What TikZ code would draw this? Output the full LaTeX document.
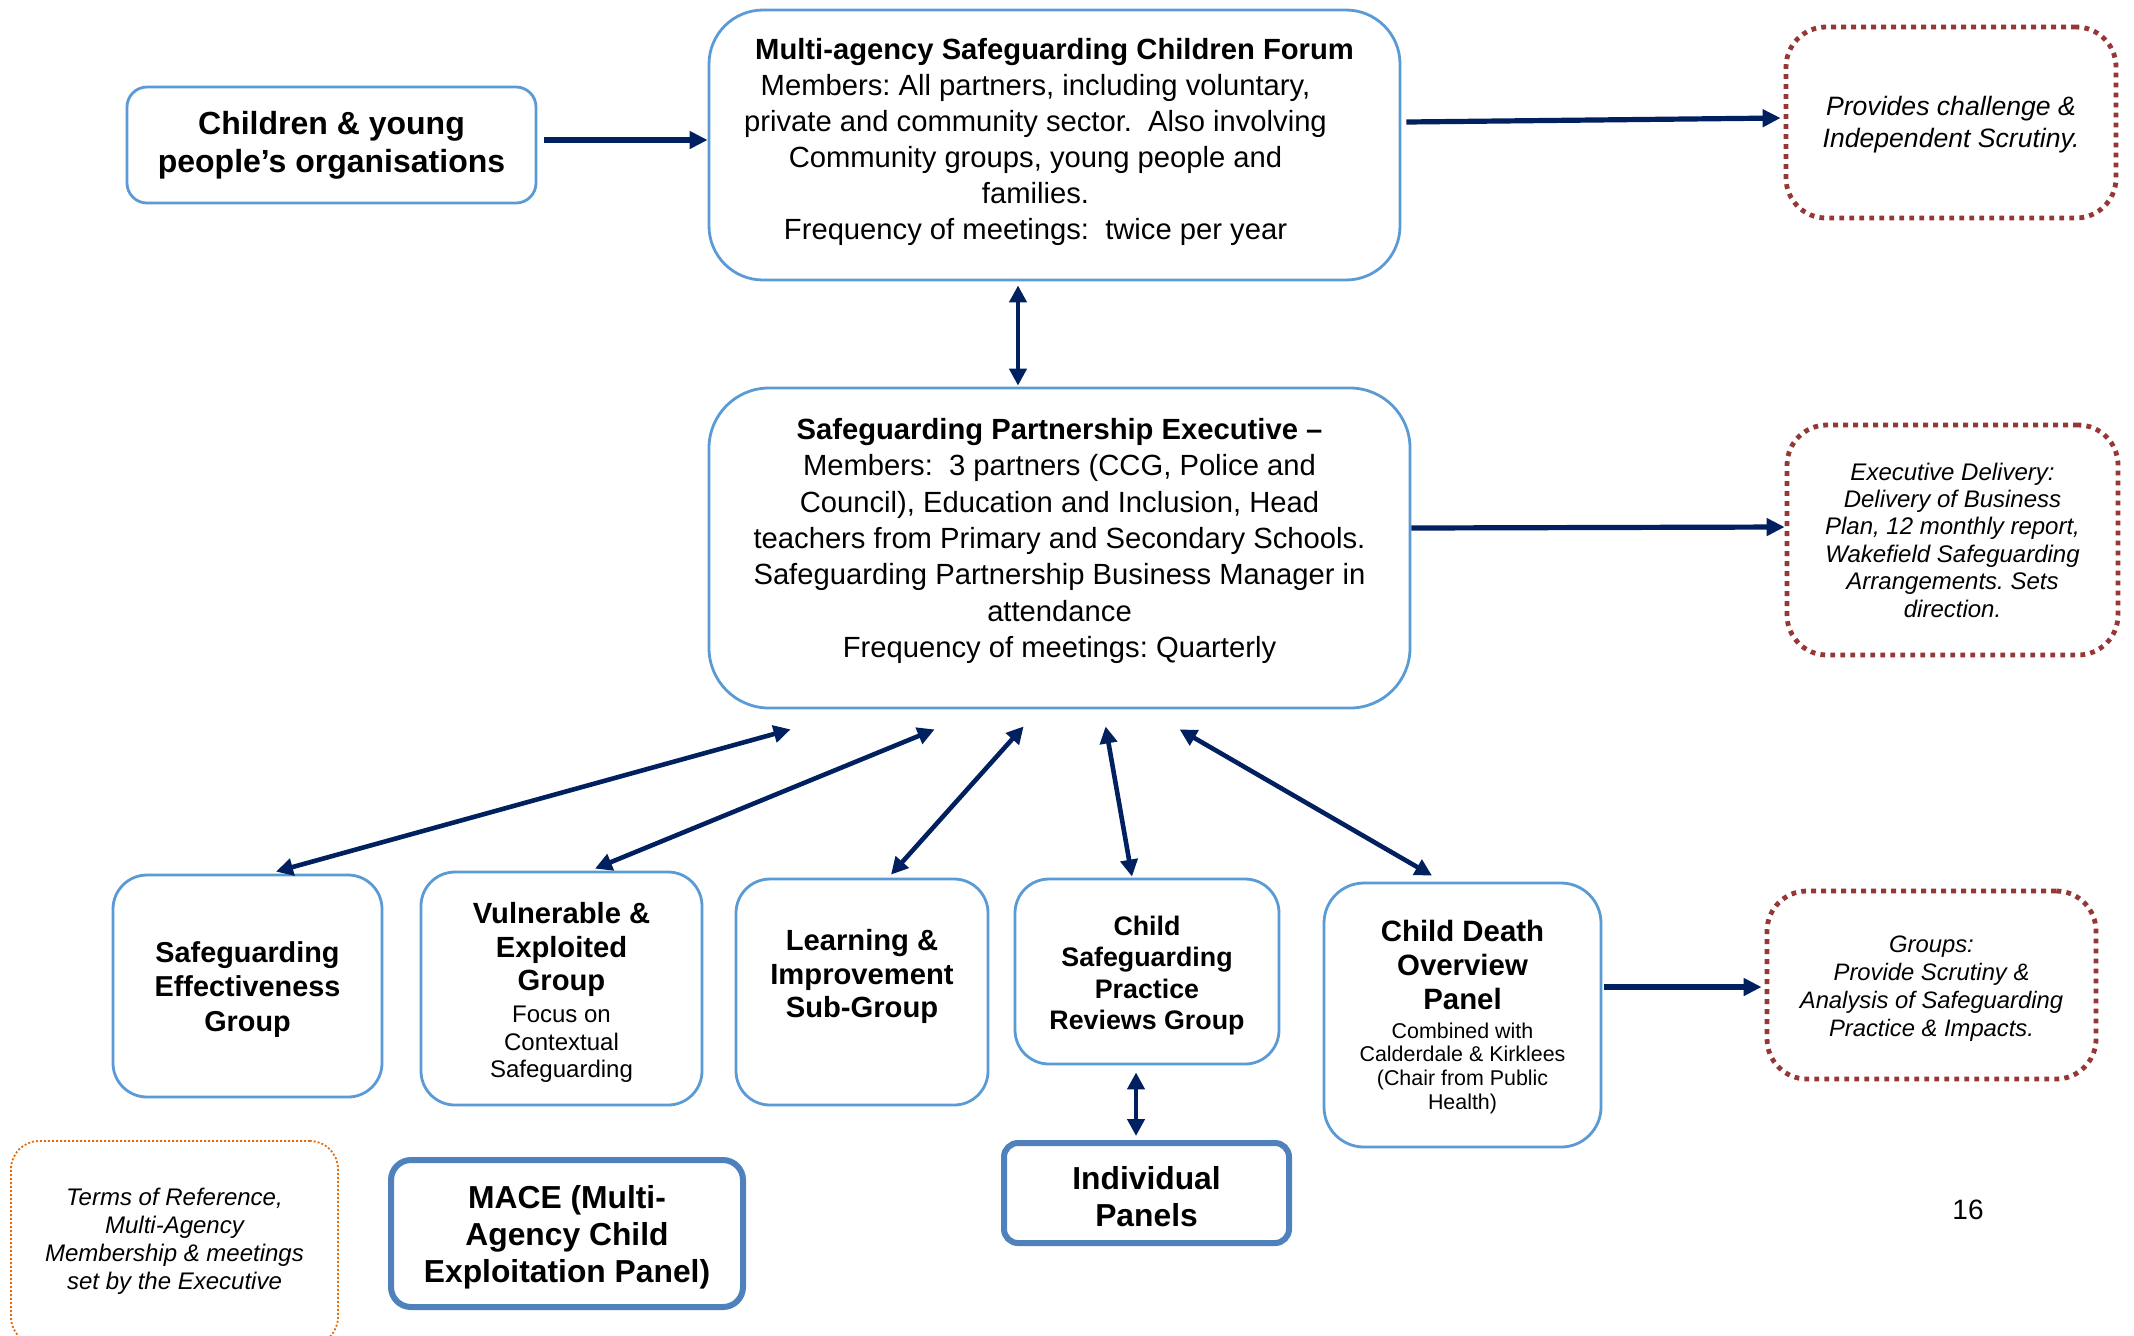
\documentclass[tikz,border=0pt]{standalone}
\usepackage{fontspec}
\setmainfont{Liberation Sans}
\usetikzlibrary{arrows.meta,calc}
\definecolor{navy}{HTML}{002060}
\definecolor{boxblue}{HTML}{5B9BD5}
\definecolor{boxbluedk}{HTML}{4F81BD}
\definecolor{dotred}{HTML}{953735}
\definecolor{dotorange}{HTML}{E46C0A}
\newcommand{\myfs}[2]{\fontsize{#1}{#2}\selectfont}
\frenchspacing
\tikzset{
  box/.style={draw=boxblue, line width=1.4pt, fill=white, inner sep=0pt},
  thickbox/.style={draw=boxbluedk, line width=3pt, fill=white, inner sep=0pt},
  redbox/.style={draw=dotred, line width=2.4pt, dash pattern=on 2.4pt off 2.6pt, rounded corners=20pt, inner sep=0pt},
  orbox/.style={draw=dotorange, line width=0.9pt, dash pattern=on 1pt off 1pt, rounded corners=14pt, inner sep=0pt},
  arr/.style={draw=navy, line width=2.6pt, -{Triangle[length=9pt,width=8.5pt]}},
  dbl/.style={draw=navy, line width=2.3pt, {Triangle[length=8.5pt,width=8.5pt]}-{Triangle[length=8.5pt,width=8.5pt]}},
  txt/.style={align=flush center, inner sep=0pt}
}
\begin{document}
\begin{tikzpicture}[x=0.5pt,y=-0.5pt]
\useasboundingbox (0,0) rectangle (2134,1335);
\fill[white] (0,0) rectangle (2134,1335);

% ---------- boxes ----------
\node[box, rounded corners=10pt, minimum width=204.5pt, minimum height=58pt] (children) at (331.5,145) {};
\node[box, rounded corners=27pt, minimum width=345.5pt, minimum height=135pt] (forum) at (1054.5,145) {};
\node[redbox, minimum width=165pt, minimum height=95.5pt] (provides) at (1951,122.5) {};
\node[box, rounded corners=30pt, minimum width=350.5pt, minimum height=160pt] (exec) at (1059.5,548) {};
\node[redbox, minimum width=165.5pt, minimum height=115pt] (delivery) at (1952.5,540) {};
\node[box, rounded corners=17pt, minimum width=134.5pt, minimum height=111pt] (seg) at (247.5,986) {};
\node[box, rounded corners=17pt, minimum width=140.5pt, minimum height=116.5pt] (veg) at (561.5,988.5) {};
\node[box, rounded corners=17pt, minimum width=126pt, minimum height=113pt] (lis) at (862,992) {};
\node[box, rounded corners=17pt, minimum width=132pt, minimum height=92.5pt] (cspr) at (1147,971.5) {};
\node[box, rounded corners=20pt, minimum width=138.5pt, minimum height=132pt] (cdop) at (1462.5,1015) {};
\node[redbox, minimum width=164.5pt, minimum height=94pt] (groups) at (1931.5,985) {};
\node[orbox, minimum width=163.5pt, minimum height=102pt] (terms) at (174.5,1243) {};
\node[thickbox, rounded corners=10pt, minimum width=176pt, minimum height=73.5pt] (mace) at (567,1233.5) {};
\node[thickbox, rounded corners=7pt, minimum width=142.5pt, minimum height=50pt] (ind) at (1146.5,1193) {};

% ---------- texts ----------
\node[txt, text width=204pt, font=\myfs{16}{19}\bfseries] (childrent) at (331.5,145)
  {Children \& young\\people’s organisations};
\node[txt, text width=345pt, font=\myfs{14.6}{18}] (forumt) at (1054.5,141.5)
  {{\bfseries Multi-agency Safeguarding Children Forum}\par
   {\leftskip=0pt plus 1fil\rightskip=19pt plus 1fil\parfillskip=0pt Members: All partners, including voluntary,\\private and community sector.\ \ Also involving\\Community groups, young people and\\families.\\Frequency of meetings:\ \ twice per year\par}};
\node[txt, text width=165pt, font=\myfs{13.3}{15.7}\itshape] (providest) at (1951,124.5)
  {Provides challenge \&\\Independent Scrutiny.};
\node[txt, text width=350pt, font=\myfs{14.6}{18.2}] (exect) at (1059.5,541)
  {{\bfseries Safeguarding Partnership Executive –}\\Members:\ \ 3 partners (CCG, Police and\\Council), Education and Inclusion, Head\\teachers from Primary and Secondary Schools.\\Safeguarding Partnership Business Manager in\\attendance\\Frequency of meetings: Quarterly};
\node[txt, text width=165pt, font=\myfs{12}{13.7}\itshape] (deliveryt) at (1952.5,540)
  {Executive Delivery:\\Delivery of Business\\Plan, 12 monthly report,\\Wakefield Safeguarding\\Arrangements. Sets\\direction.};
\node[txt, text width=134pt, font=\myfs{14.4}{17.2}\bfseries] (segt) at (247.5,989.5)
  {Safeguarding\\Effectiveness\\Group};
\node[txt, text width=140pt, font=\myfs{14.6}{16.7}] (vegt) at (561.5,992.5)
  {{\bfseries Vulnerable \&\\Exploited\\Group\par}\vspace{2.5pt}{\myfs{12}{13.6}Focus on\\Contextual\\Safeguarding\par}};
\node[txt, text width=126pt, font=\myfs{14.6}{16.7}\bfseries] (list) at (862,976.5)
  {Learning \&\\Improvement\\Sub-Group};
\node[txt, text width=132pt, font=\myfs{13.4}{15.6}\bfseries] (csprt) at (1147,975.5)
  {Child\\Safeguarding\\Practice\\Reviews Group};
\node[txt, text width=138pt, font=\myfs{14.7}{17}] (cdopt) at (1462.5,1017)
  {{\bfseries Child Death\\Overview\\Panel\par}\vspace{2.5pt}{\myfs{10.7}{11.8}Combined with\\Calderdale \& Kirklees\\(Chair from Public\\Health)\par}};
\node[txt, text width=164pt, font=\myfs{11.9}{14}\itshape] (groupst) at (1931.5,989)
  {Groups:\\Provide Scrutiny \&\\Analysis of Safeguarding\\Practice \& Impacts.};
\node[txt, text width=163pt, font=\myfs{12}{14}\itshape] (termst) at (174.5,1241)
  {Terms of Reference,\\Multi-Agency\\Membership \& meetings\\set by the Executive};
\node[txt, text width=176pt, font=\myfs{15.9}{18.4}\bfseries] (macet) at (567,1237.5)
  {MACE (Multi-\\Agency Child\\Exploitation Panel)};
\node[txt, text width=142pt, font=\myfs{15.9}{18.4}\bfseries] (indt) at (1146.5,1197)
  {Individual\\Panels};
\node[txt, font=\myfs{14}{16}] (pg) at (1968,1210) {16};

% ---------- connectors ----------
\draw[arr] ($(children.east)+(7,-5)$) -- ($(forum.west)+(0,-5)$);
\draw[arr] ($(forum.east)+(5,-23)$) -- ($(provides.west)+(-3,-4.5)$);
\draw[dbl] ($(forum.south)+(-36.5,4)$) -- ($(exec.north)+(-41.5,-1)$);
\draw[arr] ($(exec.east)+(0,-20)$) -- ($(delivery.west)+(0,-13)$);
\draw[dbl] ($(exec.south west)+(83,20)$) -- ($(seg.north)+(28.5,-2)$);
\draw[dbl] ($(exec.south west)+(227,20)$) -- ($(veg.north)+(33.5,-2)$);
\draw[dbl] ($(exec.south west)+(316,17)$) -- ($(lis.north)+(29,-3)$);
\draw[dbl] ($(exec.south west)+(398,17)$) -- ($(cspr.north)+(-15,-1)$);
\draw[dbl] ($(exec.south west)+(472,20)$) -- ($(cdop.north)+(-30.5,-6)$);
\draw[dbl] ($(cspr.south)+(-11,7)$) -- ($(ind.north)+(-10.5,-4)$);
\draw[arr] ($(cdop.east)+(2,-28)$) -- ($(groups.west)+(-3,2)$);
\end{tikzpicture}
\end{document}
